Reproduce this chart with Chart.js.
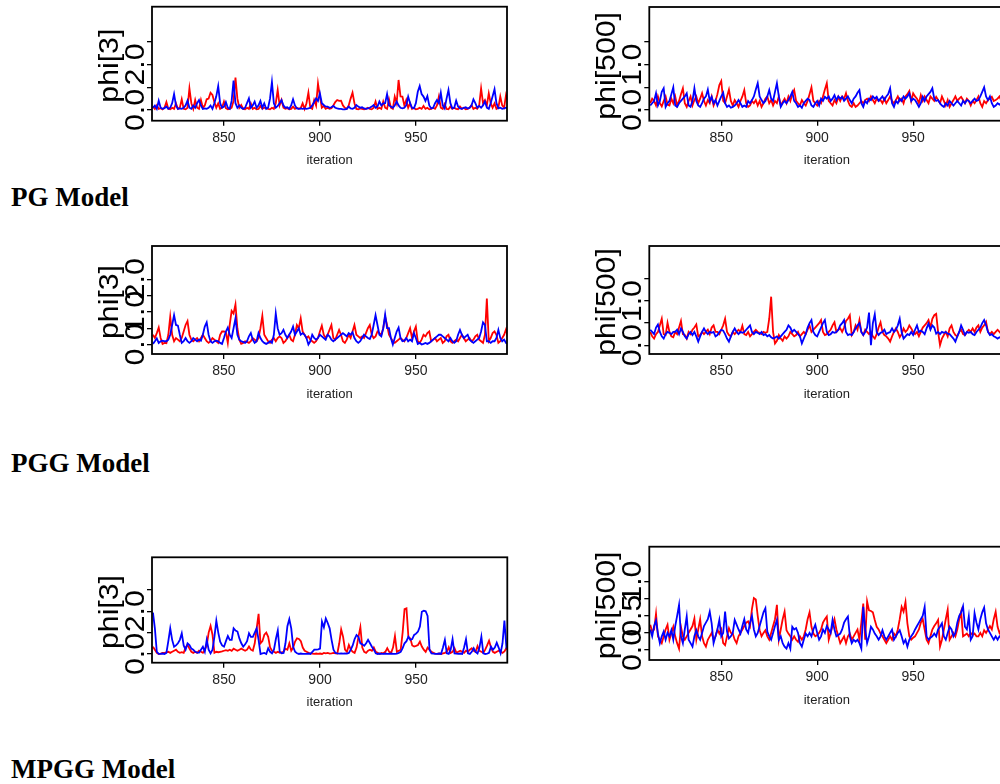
<!DOCTYPE html>
<html lang="en">
<head>
<meta charset="utf-8">
<title>Traceplots phi</title>
<script src="https://cdn.jsdelivr.net/npm/chart.js@4.4.1/dist/chart.umd.min.js"></script>
<style>
  html, body { margin: 0; padding: 0; background: #fff; }
  body { position: relative; width: 1000px; height: 784px; overflow: hidden; }
  canvas { position: absolute; }
  .legenda {
    position: absolute;
    left: 11px;
    font: bold 27px "Liberation Serif", "Times New Roman", serif;
    line-height: 27px;
    color: #000;
    white-space: nowrap;
  }
</style>
</head>
<body>
<canvas id="pgPhi3"></canvas>
<canvas id="pgPhi500"></canvas>
<canvas id="pggPhi3"></canvas>
<canvas id="pggPhi500"></canvas>
<canvas id="mpggPhi3"></canvas>
<canvas id="mpggPhi500"></canvas>
<div class="legenda" style="top:184px">PG Model</div>
<div class="legenda" style="top:450px">PGG Model</div>
<div class="legenda" style="top:756px">MPGG Model</div>

<script>
// Iterações mostradas nos traceplots
const PRIMEIRA_ITERACAO = 813;
const ITER_MIN = 812.5;
const ITER_MAX = 997.5;
const ITER_TICKS = [850, 900, 950];

// PG Model - phi[3] (cadeia 1 vermelha, cadeia 2 azul)
const PG_PHI3_CADEIA1 = [
  0.15, 0.05, 0.2, 0.05, 0.08, 0.03, 0.1, 0.35, 0.05, 0.03,
  0.1, 0.05, 0.29, 0.05, 0.1, 0.47, 0.05, 0.03, 0.1, 0.95,
  0.3, 0.05, 0.44, 0.1, 0.05, 0.44, 0.1, 0.2, 0.47, 0.5,
  0.76, 0.66, 0.35, 0.1, 0.29, 0.05, 0.1, 0.37, 0.08, 0.03,
  0.05, 0.1, 0.4, 1.43, 0.5, 0.1, 0.22, 0.05, 0.03, 0.1,
  0.05, 0.29, 0.05, 0.1, 0.03, 0.05, 0.18, 0.05, 0.1, 0.08,
  0.05, 0.03, 0.1, 0.05, 0.3, 0.88, 0.2, 0.44, 0.1, 0.05,
  0.08, 0.03, 0.05, 0.15, 0.05, 0.1, 0.05, 0.08, 0.29, 0.05,
  0.3, 0.76, 0.1, 0.05, 0.44, 0.2, 1.17, 0.6, 0.1, 0.18,
  0.05, 0.1, 0.05, 0.08, 0.2, 0.35, 0.44, 0.4, 0.41, 0.2,
  0.1, 0.05, 0.2, 0.5, 0.76, 0.3, 0.05, 0.03, 0.07, 0.05,
  0.03, 0.05, 0.1, 0.05, 0.03, 0.1, 0.37, 0.05, 0.1, 0.05,
  0.37, 0.1, 0.05, 0.47, 0.1, 0.05, 0.59, 0.3, 1.32, 0.6,
  0.59, 0.2, 0.44, 0.1, 0.29, 0.05, 0.1, 0.03, 0.05, 0.1,
  0.05, 0.18, 0.05, 0.1, 0.03, 0.05, 0.1, 0.05, 0.2, 0.59,
  0.1, 0.05, 0.26, 0.05, 0.03, 0.15, 0.05, 0.1, 0.05, 0.03,
  0.15, 0.05, 0.1, 0.03, 0.05, 0.1, 0.22, 0.05, 0.1, 0.05,
  0.2, 0.95, 0.3, 0.44, 0.2, 0.73, 0.3, 0.1, 0.29, 0.05,
  0.1, 0.59, 0.2, 0.1, 0.66, 0.4
];
const PG_PHI3_CADEIA2 = [
  0.1, 0.2, 0.05, 0.41, 0.1, 0.05, 0.08, 0.15, 0.05, 0.1,
  0.3, 0.7, 0.2, 0.05, 0.07, 0.05, 0.1, 0.2, 0.41, 0.1,
  0.05, 0.2, 0.1, 0.3, 0.44, 0.2, 0.05, 0.07, 0.05, 0.1,
  0.2, 0.05, 0.3, 0.6, 1.05, 0.3, 0.1, 0.15, 0.35, 0.1,
  0.05, 0.4, 1.29, 0.3, 0.1, 0.2, 0.1, 0.05, 0.1, 0.3,
  0.51, 0.1, 0.2, 0.37, 0.1, 0.2, 0.4, 0.1, 0.29, 0.05,
  0.1, 0.5, 1.23, 0.3, 0.1, 0.18, 0.3, 0.44, 0.2, 0.1,
  0.12, 0.05, 0.2, 0.47, 0.2, 0.07, 0.05, 0.07, 0.05, 0.07,
  0.05, 0.07, 0.1, 0.2, 0.35, 0.51, 0.4, 0.73, 0.3, 0.22,
  0.15, 0.15, 0.1, 0.12, 0.18, 0.1, 0.07, 0.05, 0.05, 0.03,
  0.03, 0.05, 0.15, 0.07, 0.05, 0.1, 0.22, 0.15, 0.1, 0.12,
  0.07, 0.05, 0.07, 0.1, 0.15, 0.22, 0.1, 0.15, 0.37, 0.2,
  0.29, 0.3, 0.7, 0.2, 0.15, 0.1, 0.2, 0.37, 0.2, 0.1,
  0.07, 0.1, 0.2, 0.59, 0.3, 0.1, 0.07, 0.3, 0.8, 1.05,
  0.7, 0.59, 0.4, 0.61, 0.2, 0.07, 0.1, 0.3, 0.44, 0.3,
  0.76, 0.2, 0.07, 0.5, 0.88, 0.3, 0.07, 0.1, 0.41, 0.15,
  0.07, 0.05, 0.1, 0.12, 0.07, 0.1, 0.2, 0.47, 0.3, 0.1,
  0.18, 0.1, 0.2, 0.37, 0.1, 0.05, 0.3, 0.6, 0.91, 0.3,
  0.07, 0.1, 0.05, 0.07, 0.1, 0.07
];

// PG Model - phi[500]
const PG_PHI500_CADEIA1 = [
  0.15, 0.25, 0.2, 0.1, 0.3, 0.15, 0.08, 0.2, 0.3, 0.12,
  0.1, 0.25, 0.15, 0.3, 0.1, 0.2, 0.35, 0.48, 0.15, 0.07,
  0.2, 0.3, 0.1, 0.22, 0.3, 0.15, 0.25, 0.37, 0.2, 0.1,
  0.22, 0.15, 0.3, 0.1, 0.2, 0.35, 0.55, 0.64, 0.2, 0.15,
  0.3, 0.45, 0.2, 0.1, 0.22, 0.15, 0.07, 0.2, 0.3, 0.44,
  0.15, 0.07, 0.1, 0.2, 0.15, 0.22, 0.1, 0.2, 0.07, 0.15,
  0.25, 0.3, 0.15, 0.22, 0.1, 0.2, 0.15, 0.3, 0.1, 0.18,
  0.25, 0.15, 0.3, 0.2, 0.35, 0.44, 0.2, 0.15, 0.1, 0.22,
  0.15, 0.1, 0.2, 0.35, 0.5, 0.2, 0.15, 0.1, 0.2, 0.15,
  0.3, 0.45, 0.59, 0.2, 0.15, 0.1, 0.22, 0.15, 0.29, 0.2,
  0.3, 0.25, 0.37, 0.2, 0.1, 0.07, 0.15, 0.07, 0.1, 0.15,
  0.2, 0.15, 0.22, 0.25, 0.2, 0.3, 0.22, 0.15, 0.25, 0.2,
  0.22, 0.15, 0.25, 0.15, 0.22, 0.3, 0.2, 0.15, 0.22, 0.3,
  0.2, 0.25, 0.15, 0.3, 0.35, 0.42, 0.2, 0.37, 0.3, 0.25,
  0.15, 0.33, 0.2, 0.3, 0.22, 0.15, 0.3, 0.25, 0.2, 0.29,
  0.22, 0.15, 0.3, 0.2, 0.1, 0.22, 0.07, 0.15, 0.22, 0.3,
  0.2, 0.25, 0.29, 0.22, 0.15, 0.25, 0.2, 0.1, 0.2, 0.15,
  0.22, 0.3, 0.15, 0.07, 0.2, 0.15, 0.22, 0.25, 0.29, 0.2,
  0.22, 0.25, 0.3, 0.2, 0.25, 0.3
];
const PG_PHI500_CADEIA2 = [
  0.1, 0.15, 0.2, 0.37, 0.1, 0.2, 0.4, 0.48, 0.07, 0.15,
  0.2, 0.35, 0.5, 0.1, 0.07, 0.15, 0.2, 0.25, 0.3, 0.37,
  0.1, 0.07, 0.2, 0.48, 0.2, 0.1, 0.07, 0.15, 0.25, 0.3,
  0.45, 0.2, 0.29, 0.15, 0.22, 0.1, 0.2, 0.3, 0.38, 0.15,
  0.07, 0.1, 0.05, 0.07, 0.1, 0.15, 0.22, 0.15, 0.07, 0.1,
  0.07, 0.2, 0.15, 0.22, 0.3, 0.45, 0.59, 0.3, 0.22, 0.15,
  0.2, 0.3, 0.44, 0.25, 0.2, 0.4, 0.59, 0.3, 0.07, 0.15,
  0.2, 0.15, 0.22, 0.3, 0.4, 0.2, 0.15, 0.07, 0.1, 0.05,
  0.15, 0.2, 0.25, 0.22, 0.1, 0.07, 0.15, 0.2, 0.1, 0.25,
  0.2, 0.29, 0.25, 0.3, 0.2, 0.25, 0.33, 0.22, 0.3, 0.25,
  0.29, 0.2, 0.25, 0.3, 0.22, 0.15, 0.25, 0.3, 0.38, 0.44,
  0.15, 0.07, 0.2, 0.15, 0.25, 0.22, 0.3, 0.25, 0.29, 0.2,
  0.25, 0.3, 0.22, 0.3, 0.35, 0.48, 0.15, 0.07, 0.2, 0.15,
  0.25, 0.2, 0.3, 0.25, 0.3, 0.37, 0.2, 0.25, 0.22, 0.15,
  0.07, 0.15, 0.29, 0.2, 0.3, 0.35, 0.4, 0.48, 0.25, 0.2,
  0.22, 0.15, 0.1, 0.07, 0.15, 0.1, 0.2, 0.15, 0.1, 0.15,
  0.2, 0.15, 0.1, 0.2, 0.15, 0.22, 0.2, 0.15, 0.2, 0.25,
  0.2, 0.22, 0.3, 0.4, 0.5, 0.3, 0.22, 0.3, 0.15, 0.07,
  0.1, 0.15, 0.12, 0.15, 0.1, 0.12
];

// PGG Model - phi[3]
const PGG_PHI3_CADEIA1 = [
  0.3, 0.2, 0.35, 0.52, 0.2, 0.02, 0.05, 0.04, 0.3, 0.85,
  0.3, 0.1, 0.2, 0.15, 0.1, 0.2, 0.4, 0.6, 0.72, 0.3,
  0.15, 0.1, 0.15, 0.2, 0.1, 0.2, 0.3, 0.2, 0.1, 0.05,
  0.1, 0.2, 0.15, 0.1, 0.05, 0.3, 0.4, 0.4, 0.38, 0.05,
  0.6, 1.03, 0.95, 1.23, 0.5, 0.15, 0.02, 0.05, 0.1, 0.08,
  0.05, 0.1, 0.2, 0.15, 0.1, 0.2, 0.5, 0.88, 0.3, 0.2,
  0.1, 0.05, 0.15, 0.2, 0.1, 0.2, 0.25, 0.2, 0.05, 0.1,
  0.2, 0.3, 0.15, 0.1, 0.3, 0.6, 0.5, 0.8, 0.4, 0.3,
  0.2, 0.25, 0.15, 0.1, 0.05, 0.1, 0.2, 0.4, 0.58, 0.3,
  0.2, 0.3, 0.45, 0.6, 0.2, 0.15, 0.3, 0.45, 0.3, 0.1,
  0.05, 0.15, 0.3, 0.2, 0.4, 0.6, 0.3, 0.25, 0.2, 0.25,
  0.2, 0.35, 0.5, 0.6, 0.3, 0.2, 0.25, 0.4, 0.35, 0.3,
  0.5, 0.85, 0.6, 0.3, 0.2, 0.1, 0.05, 0.1, 0.15, 0.2,
  0.15, 0.1, 0.2, 0.35, 0.5, 0.2, 0.4, 0.55, 0.1, 0.05,
  0.15, 0.3, 0.25, 0.35, 0.4, 0.1, 0.15, 0.2, 0.1, 0.15,
  0.2, 0.05, 0.1, 0.25, 0.3, 0.1, 0.05, 0.1, 0.15, 0.1,
  0.2, 0.3, 0.2, 0.1, 0.15, 0.2, 0.1, 0.15, 0.25, 0.3,
  0.15, 0.1, 0.05, 0.3, 1.41, 0.1, 0.2, 0.35, 0.4, 0.3,
  0.05, 0.1, 0.2, 0.3, 0.47, 0.2
];
const PGG_PHI3_CADEIA2 = [
  0.02, 0.1, 0.19, 0.05, 0.1, 0.12, 0.1, 0.1, 0.15, 0.3,
  0.6, 0.9, 0.6, 0.58, 0.3, 0.05, 0.1, 0.2, 0.1, 0.05,
  0.1, 0.2, 0.15, 0.1, 0.15, 0.12, 0.3, 0.55, 0.68, 0.3,
  0.1, 0.05, 0.1, 0.12, 0.1, 0.05, 0.02, 0.2, 0.4, 0.52,
  0.3, 0.2, 0.5, 0.8, 0.3, 0.15, 0.1, 0.08, 0.05, 0.1,
  0.25, 0.35, 0.15, 0.05, 0.1, 0.35, 0.2, 0.1, 0.05, 0.02,
  0.05, 0.1, 0.05, 0.3, 0.95, 0.5, 0.3, 0.35, 0.45, 0.3,
  0.2, 0.3, 0.4, 0.55, 0.3, 0.4, 0.5, 0.3, 0.35, 0.3,
  0.2, 0.0, 0.1, 0.3, 0.2, 0.15, 0.2, 0.3, 0.25, 0.2,
  0.15, 0.3, 0.25, 0.15, 0.1, 0.15, 0.2, 0.25, 0.3, 0.35,
  0.3, 0.25, 0.35, 0.3, 0.38, 0.2, 0.1, 0.05, 0.1, 0.2,
  0.3, 0.25, 0.2, 0.17, 0.3, 0.6, 0.9, 0.6, 0.3, 0.25,
  0.5, 0.92, 0.5, 0.5, 0.2, 0.0, 0.2, 0.4, 0.52, 0.2,
  0.1, 0.12, 0.2, 0.1, 0.15, 0.1, 0.35, 0.2, 0.02, 0.05,
  0.0, 0.02, 0.05, 0.02, 0.05, 0.1, 0.15, 0.2, 0.25, 0.3,
  0.3, 0.25, 0.2, 0.15, 0.1, 0.2, 0.1, 0.05, 0.1, 0.3,
  0.45, 0.3, 0.2, 0.25, 0.3, 0.15, 0.1, 0.05, 0.1, 0.15,
  0.2, 0.4, 0.68, 0.6, 0.1, 0.1, 0.05, 0.1, 0.1, 0.2,
  0.45, 0.2, 0.1, 0.15, 0.05, 0.03
];

// PGG Model - phi[500]
const PGG_PHI500_CADEIA1 = [
  0.3, 0.2, 0.15, 0.25, 0.3, 0.45, 0.6, 0.25, 0.23, 0.51,
  0.3, 0.2, 0.18, 0.3, 0.25, 0.4, 0.55, 0.25, 0.23, 0.15,
  0.3, 0.25, 0.35, 0.4, 0.47, 0.2, 0.23, 0.3, 0.25, 0.3,
  0.35, 0.25, 0.4, 0.45, 0.3, 0.3, 0.25, 0.35, 0.45, 0.6,
  0.3, 0.23, 0.2, 0.3, 0.25, 0.3, 0.35, 0.3, 0.44, 0.25,
  0.23, 0.3, 0.2, 0.25, 0.3, 0.35, 0.3, 0.28, 0.25, 0.3,
  0.28, 0.3, 0.6, 1.1, 0.3, 0.04, 0.1, 0.23, 0.15, 0.1,
  0.2, 0.15, 0.2, 0.3, 0.25, 0.2, 0.23, 0.3, 0.2, 0.25,
  0.3, 0.25, 0.35, 0.45, 0.3, 0.35, 0.4, 0.45, 0.5, 0.57,
  0.3, 0.23, 0.25, 0.3, 0.35, 0.45, 0.52, 0.3, 0.35, 0.38,
  0.3, 0.4, 0.55, 0.6, 0.68, 0.23, 0.3, 0.45, 0.35, 0.57,
  0.3, 0.23, 0.35, 0.3, 0.25, 0.3, 0.2, 0.15, 0.25, 0.4,
  0.52, 0.3, 0.23, 0.2, 0.15, 0.08, 0.2, 0.3, 0.38, 0.3,
  0.18, 0.25, 0.38, 0.3, 0.35, 0.45, 0.38, 0.3, 0.25, 0.3,
  0.2, 0.3, 0.4, 0.45, 0.5, 0.57, 0.4, 0.6, 0.68, 0.71,
  0.3, 0.0, 0.15, 0.23, 0.3, 0.2, 0.38, 0.45, 0.3, 0.23,
  0.2, 0.3, 0.35, 0.25, 0.23, 0.3, 0.35, 0.3, 0.38, 0.3,
  0.4, 0.45, 0.3, 0.4, 0.45, 0.53, 0.3, 0.25, 0.3, 0.25,
  0.3, 0.35, 0.3, 0.25, 0.3, 0.28
];
const PGG_PHI500_CADEIA2 = [
  0.35, 0.3, 0.25, 0.4, 0.47, 0.3, 0.2, 0.15, 0.25, 0.3,
  0.28, 0.25, 0.3, 0.3, 0.35, 0.25, 0.38, 0.3, 0.2, 0.15,
  0.25, 0.3, 0.23, 0.3, 0.2, 0.08, 0.2, 0.3, 0.38, 0.3,
  0.25, 0.3, 0.28, 0.3, 0.2, 0.23, 0.3, 0.35, 0.33, 0.25,
  0.15, 0.08, 0.2, 0.3, 0.38, 0.3, 0.25, 0.3, 0.28, 0.3,
  0.35, 0.4, 0.45, 0.3, 0.25, 0.3, 0.28, 0.25, 0.3, 0.23,
  0.25, 0.2, 0.23, 0.18, 0.15, 0.17, 0.2, 0.15, 0.2, 0.25,
  0.3, 0.35, 0.45, 0.4, 0.3, 0.35, 0.3, 0.25, 0.2, 0.04,
  0.15, 0.25, 0.4, 0.5, 0.57, 0.3, 0.23, 0.2, 0.3, 0.4,
  0.5, 0.57, 0.3, 0.23, 0.25, 0.3, 0.28, 0.3, 0.35, 0.45,
  0.5, 0.57, 0.3, 0.23, 0.25, 0.23, 0.3, 0.38, 0.45, 0.5,
  0.3, 0.23, 0.3, 0.4, 0.74, 0.0, 0.5, 0.7, 0.3, 0.23,
  0.28, 0.3, 0.35, 0.25, 0.28, 0.3, 0.38, 0.3, 0.35, 0.45,
  0.6, 0.3, 0.15, 0.2, 0.25, 0.23, 0.3, 0.23, 0.35, 0.45,
  0.3, 0.33, 0.3, 0.25, 0.38, 0.49, 0.35, 0.45, 0.4, 0.26,
  0.3, 0.25, 0.3, 0.28, 0.3, 0.26, 0.25, 0.2, 0.15, 0.08,
  0.2, 0.3, 0.45, 0.35, 0.23, 0.3, 0.28, 0.3, 0.25, 0.23,
  0.3, 0.35, 0.4, 0.5, 0.57, 0.45, 0.3, 0.23, 0.25, 0.2,
  0.18, 0.15, 0.18, 0.15, 0.2, 0.18
];

// MPGG Model - phi[3]
const MPGG_PHI3_CADEIA1 = [
  0.34, 0.2, 0.05, 0.0, 0.02, 0.05, 0.05, 0.08, 0.1, 0.05,
  0.1, 0.15, 0.2, 0.1, 0.05, 0.08, 0.05, 0.3, 0.42, 0.25,
  0.1, 0.05, 0.1, 0.05, 0.15, 0.1, 0.05, 0.2, 0.4, 1.0,
  1.31, 0.9, 0.05, 0.1, 0.08, 0.1, 0.12, 0.15, 0.18, 0.15,
  0.2, 0.15, 0.25, 0.2, 0.15, 0.2, 0.25, 0.2, 0.15, 0.2,
  0.35, 0.2, 0.15, 0.5, 1.2, 1.88, 0.5, 0.6, 0.9, 1.0,
  0.8, 0.3, 0.15, 0.1, 0.05, 0.1, 0.05, 0.08, 0.1, 0.25,
  0.2, 0.5, 0.15, 0.3, 0.58, 0.73, 0.7, 0.6, 0.3, 0.15,
  0.1, 0.05, 0.03, 0.02, 0.0, 0.02, 0.0, 0.02, 0.0, 0.05,
  0.03, 0.05, 0.02, 0.03, 0.05, 0.03, 0.02, 0.5, 1.15, 0.8,
  0.2, 0.1, 0.42, 0.2, 0.1, 0.05, 0.3, 0.8, 1.25, 0.3,
  0.1, 0.05, 0.15, 0.2, 0.15, 0.3, 0.1, 0.05, 0.0, 0.05,
  0.03, 0.1, 0.27, 0.1, 0.05, 0.3, 0.84, 0.1, 0.15, 0.2,
  1.0, 2.1, 2.14, 0.8, 0.72, 0.4, 0.35, 0.38, 0.42, 0.58,
  0.35, 0.2, 0.1, 0.3, 0.2, 0.1, 0.05, 0.02, 0.0, 0.02,
  0.0, 0.03, 0.05, 0.1, 0.31, 0.05, 0.1, 0.27, 0.05, 0.1,
  0.15, 0.1, 0.05, 0.15, 0.1, 0.2, 0.27, 0.15, 0.1, 0.37,
  0.15, 0.1, 0.05, 0.2, 0.4, 0.62, 0.3, 0.1, 0.05, 0.1,
  0.15, 0.1, 0.05, 0.12, 0.27, 0.2
];
const MPGG_PHI3_CADEIA2 = [
  1.94, 1.2, 0.1, 0.0, 0.0, 0.02, 0.0, 0.05, 0.6, 1.2,
  0.66, 0.34, 0.4, 0.5, 0.66, 0.97, 0.4, 0.2, 0.5, 0.42,
  0.25, 0.2, 0.1, 0.06, 0.06, 0.2, 0.34, 0.1, 0.66, 0.2,
  0.03, 0.2, 0.8, 1.56, 1.0, 0.58, 0.4, 0.34, 0.6, 0.84,
  0.66, 0.66, 1.2, 1.1, 1.05, 0.73, 0.5, 0.34, 0.45, 0.6,
  0.97, 0.8, 0.8, 1.0, 1.2, 0.66, 0.0, 0.03, 0.05, 0.0,
  0.27, 0.1, 0.03, 0.2, 0.7, 1.1, 0.1, 0.03, 0.05, 0.5,
  1.3, 1.63, 1.2, 0.34, 0.1, 0.03, 0.0, 0.02, 0.0, 0.0,
  0.0, 0.02, 0.0, 0.1, 0.2, 0.2, 0.22, 0.25, 1.52, 1.25,
  1.66, 1.45, 1.2, 0.66, 0.2, 0.05, 0.03, 0.02, 0.03, 0.02,
  0.03, 0.02, 0.05, 0.2, 0.4, 0.7, 0.89, 0.8, 0.5, 0.45,
  0.38, 0.5, 0.66, 0.5, 0.34, 0.2, 0.03, 0.0, 0.02, 0.0,
  0.0, 0.02, 0.0, 0.0, 0.02, 0.0, 0.0, 0.02, 0.05, 0.1,
  0.27, 0.5, 0.6, 0.81, 0.66, 0.7, 0.89, 0.95, 1.05, 1.28,
  1.98, 2.03, 2.0, 1.78, 0.2, 0.03, 0.02, 0.0, 0.0, 0.02,
  0.0, 0.3, 0.66, 0.03, 0.0, 0.2, 0.69, 0.03, 0.02, 0.0,
  0.02, 0.0, 0.3, 0.69, 0.03, 0.0, 0.1, 0.27, 0.1, 0.02,
  0.3, 0.81, 0.03, 0.0, 0.02, 0.05, 0.34, 0.2, 0.3, 0.53,
  0.3, 0.03, 0.5, 1.56, 0.34, 0.5
];

// MPGG Model - phi[500]
const MPGG_PHI500_CADEIA1 = [
  0.37, 0.27, 0.3, 0.53, 0.2, 0.15, 0.1, 0.2, 0.3, 0.37,
  0.15, 0.25, 0.34, 0.2, 0.1, 0.02, 0.34, 0.2, 0.15, 0.2,
  0.25, 0.3, 0.35, 0.46, 0.15, 0.3, 0.45, 0.2, 0.1, 0.05,
  0.15, 0.2, 0.25, 0.15, 0.2, 0.3, 0.24, 0.3, 0.1, 0.07,
  0.2, 0.32, 0.25, 0.24, 0.15, 0.1, 0.2, 0.25, 0.3, 0.35,
  0.4, 0.42, 0.35, 0.6, 0.76, 0.74, 0.5, 0.29, 0.2, 0.25,
  0.29, 0.2, 0.15, 0.25, 0.35, 0.45, 0.66, 0.15, 0.3, 0.45,
  0.56, 0.29, 0.24, 0.2, 0.15, 0.2, 0.15, 0.12, 0.2, 0.15,
  0.2, 0.3, 0.45, 0.55, 0.34, 0.24, 0.2, 0.22, 0.25, 0.3,
  0.4, 0.45, 0.49, 0.15, 0.25, 0.35, 0.45, 0.3, 0.2, 0.1,
  0.15, 0.2, 0.1, 0.2, 0.24, 0.15, 0.2, 0.25, 0.3, 0.15,
  0.4, 0.68, 0.15, 0.71, 0.58, 0.57, 0.55, 0.44, 0.34, 0.3,
  0.24, 0.2, 0.15, 0.1, 0.15, 0.2, 0.15, 0.24, 0.2, 0.3,
  0.45, 0.63, 0.56, 0.7, 0.39, 0.2, 0.15, 0.18, 0.2, 0.25,
  0.3, 0.4, 0.45, 0.3, 0.15, 0.1, 0.2, 0.3, 0.35, 0.39,
  0.44, 0.05, 0.15, 0.3, 0.45, 0.59, 0.15, 0.2, 0.25, 0.2,
  0.3, 0.45, 0.56, 0.2, 0.22, 0.24, 0.2, 0.25, 0.22, 0.24,
  0.2, 0.2, 0.25, 0.2, 0.29, 0.25, 0.3, 0.35, 0.3, 0.45,
  0.56, 0.34, 0.25, 0.3, 0.35, 0.3
];
const MPGG_PHI500_CADEIA2 = [
  0.3, 0.2, 0.35, 0.43, 0.24, 0.1, 0.2, 0.27, 0.15, 0.25,
  0.2, 0.29, 0.15, 0.35, 0.5, 0.66, 0.2, 0.1, 0.3, 0.49,
  0.15, 0.1, 0.05, 0.2, 0.29, 0.2, 0.15, 0.25, 0.35, 0.4,
  0.45, 0.56, 0.39, 0.1, 0.2, 0.3, 0.44, 0.2, 0.25, 0.56,
  0.27, 0.17, 0.2, 0.25, 0.44, 0.37, 0.3, 0.24, 0.35, 0.45,
  0.3, 0.25, 0.4, 0.5, 0.3, 0.2, 0.25, 0.35, 0.45, 0.55,
  0.61, 0.27, 0.2, 0.15, 0.25, 0.35, 0.44, 0.15, 0.2, 0.1,
  0.05, 0.02, 0.1, 0.02, 0.34, 0.3, 0.32, 0.25, 0.1, 0.05,
  0.15, 0.24, 0.2, 0.25, 0.2, 0.3, 0.37, 0.25, 0.15, 0.2,
  0.3, 0.25, 0.35, 0.3, 0.25, 0.44, 0.3, 0.2, 0.22, 0.24,
  0.3, 0.4, 0.45, 0.49, 0.2, 0.1, 0.15, 0.12, 0.15, 0.1,
  0.02, 0.63, 0.3, 0.1, 0.2, 0.34, 0.3, 0.24, 0.2, 0.15,
  0.2, 0.29, 0.2, 0.15, 0.2, 0.25, 0.3, 0.15, 0.2, 0.25,
  0.29, 0.2, 0.1, 0.15, 0.05, 0.15, 0.2, 0.24, 0.3, 0.35,
  0.4, 0.45, 0.5, 0.63, 0.2, 0.15, 0.18, 0.2, 0.24, 0.2,
  0.3, 0.34, 0.39, 0.2, 0.15, 0.25, 0.34, 0.3, 0.2, 0.25,
  0.4, 0.5, 0.55, 0.64, 0.34, 0.3, 0.49, 0.15, 0.2, 0.54,
  0.4, 0.3, 0.45, 0.55, 0.62, 0.39, 0.3, 0.25, 0.2, 0.15,
  0.2, 0.15, 0.2, 0.18, 0.2, 0.15
];

// Marcas e rótulos do eixo y de cada painel
const PG_PHI3_YTICKS = [0, 1, 2, 3];
const PG_PHI3_YLABELS = ['0.0', '', '2.0', ''];
const PG_PHI500_YTICKS = [0, 0.5, 1, 1.5];
const PG_PHI500_YLABELS = ['0.0', '', '1.0', ''];
const PGG_PHI3_YTICKS = [0, 0.5, 1, 1.5, 2];
const PGG_PHI3_YLABELS = ['0.0', '', '1.0', '', '2.0'];
const PGG_PHI500_YTICKS = [0, 0.5, 1, 1.5];
const PGG_PHI500_YLABELS = ['0.0', '', '1.0', ''];
const MPGG_PHI3_YTICKS = [0, 1, 2, 3];
const MPGG_PHI3_YLABELS = ['0.0', '', '2.0', ''];
const MPGG_PHI500_YTICKS = [0, 0.25, 0.5, 0.75, 1];
const MPGG_PHI500_YLABELS = ['0.0', '', '0.5', '', '1.0'];

const FONTE = '"Liberation Sans", Arial, Helvetica, sans-serif';
const ALTURA_EIXO_X = 48;

// Configuração de cada painel (posição da caixa do gráfico na página)
const paineis = [
  { id: 'pgPhi3', titulo: 'phi[3]', cadeias: [PG_PHI3_CADEIA1, PG_PHI3_CADEIA2],
    yTicks: PG_PHI3_YTICKS, yLabels: PG_PHI3_YLABELS, yMin: -0.47, yMax: 4.54,
    x0: 0, largura: 520, caixa: { left: 152, top: 6.7, right: 507, bottom: 120.7 } },
  { id: 'pgPhi500', titulo: 'phi[500]', cadeias: [PG_PHI500_CADEIA1, PG_PHI500_CADEIA2],
    yTicks: PG_PHI500_YTICKS, yLabels: PG_PHI500_YLABELS, yMin: -0.235, yMax: 2.27,
    x0: 540, largura: 470, caixa: { left: 649.3, top: 7, right: 1004.3, bottom: 120.7 } },
  { id: 'pggPhi3', titulo: 'phi[3]', cadeias: [PGG_PHI3_CADEIA1, PGG_PHI3_CADEIA2],
    yTicks: PGG_PHI3_YTICKS, yLabels: PGG_PHI3_YLABELS, yMin: -0.29, yMax: 3.02,
    x0: 0, largura: 520, caixa: { left: 152, top: 246, right: 507, bottom: 354 } },
  { id: 'pggPhi500', titulo: 'phi[500]', cadeias: [PGG_PHI500_CADEIA1, PGG_PHI500_CADEIA2],
    yTicks: PGG_PHI500_YTICKS, yLabels: PGG_PHI500_YLABELS, yMin: -0.2, yMax: 2.25,
    x0: 540, largura: 470, caixa: { left: 649.3, top: 246, right: 1004.3, bottom: 354 } },
  { id: 'mpggPhi3', titulo: 'phi[3]', cadeias: [MPGG_PHI3_CADEIA1, MPGG_PHI3_CADEIA2],
    yTicks: MPGG_PHI3_YTICKS, yLabels: MPGG_PHI3_YLABELS, yMin: -0.41, yMax: 4.53,
    x0: 0, largura: 520, caixa: { left: 152, top: 557.3, right: 507.3, bottom: 662.7 } },
  { id: 'mpggPhi500', titulo: 'phi[500]', cadeias: [MPGG_PHI500_CADEIA1, MPGG_PHI500_CADEIA2],
    yTicks: MPGG_PHI500_YTICKS, yLabels: MPGG_PHI500_YLABELS, yMin: -0.146, yMax: 1.51,
    x0: 540, largura: 470, caixa: { left: 649.3, top: 546.7, right: 1004.3, bottom: 660 } }
];

// Caixa completa e rótulos do eixo y girados (texto levemente esticado como no R)
const eixoEstiloR = {
  id: 'eixoEstiloR',
  afterDraw(chart, args, opts) {
    const { ctx, chartArea: a } = chart;
    const y = chart.scales.y;
    ctx.save();
    ctx.strokeStyle = '#000';
    ctx.lineWidth = 1.8;
    ctx.strokeRect(a.left, a.top, a.right - a.left, a.bottom - a.top);

    ctx.fillStyle = '#000';
    ctx.font = '27px ' + FONTE;
    ctx.textAlign = 'center';
    ctx.textBaseline = 'alphabetic';
    const textoVertical = (texto, x, yy) => {
      ctx.save();
      ctx.translate(x, yy);
      ctx.rotate(-Math.PI / 2);
      ctx.scale(1.12, 1);
      ctx.fillText(texto, 0, 0);
      ctx.restore();
    };
    opts.rotulos.forEach((t, i) => {
      if (t) textoVertical(t, a.left - 8.5, y.getPixelForValue(opts.marcas[i]));
    });
    textoVertical(opts.titulo, a.left - 34.5, (a.top + a.bottom) / 2 + 2);
    ctx.restore();
  }
};

// Converte a série em pontos (iteração, valor)
function pontos(valores) {
  return valores.map((v, i) => ({ x: PRIMEIRA_ITERACAO + i, y: v }));
}

// Desenha um traceplot com as duas cadeias
function desenhaPainel(p) {
  const canvas = document.getElementById(p.id);
  const topo = Math.floor(p.caixa.top) - 6;
  const altura = Math.ceil(p.caixa.bottom) + 56 - topo;
  canvas.width = p.largura;
  canvas.height = altura;
  canvas.style.left = p.x0 + 'px';
  canvas.style.top = topo + 'px';
  canvas.style.width = p.largura + 'px';
  canvas.style.height = altura + 'px';

  const larguraEixoY = p.caixa.left - p.x0;
  const gradeMarcas = {
    display: true,
    drawOnChartArea: false,
    drawTicks: true,
    tickLength: 5,
    color: '#000',
    lineWidth: 1.3
  };

  new Chart(canvas, {
    type: 'line',
    data: {
      datasets: [
        { label: 'cadeia 2', data: pontos(p.cadeias[1]), borderColor: '#0000ff' },
        { label: 'cadeia 1', data: pontos(p.cadeias[0]), borderColor: '#ff0000' }
      ]
    },
    options: {
      responsive: false,
      animation: false,
      devicePixelRatio: 1,
      layout: {
        autoPadding: false,
        padding: {
          top: p.caixa.top - topo,
          left: 0,
          right: p.largura - (p.caixa.right - p.x0),
          bottom: altura - (p.caixa.bottom - topo) - ALTURA_EIXO_X
        }
      },
      datasets: {
        line: { borderWidth: 1.8, pointRadius: 0, tension: 0, fill: false, clip: 0 }
      },
      plugins: {
        legend: { display: false },
        tooltip: { enabled: false },
        eixoEstiloR: { titulo: p.titulo, marcas: p.yTicks, rotulos: p.yLabels }
      },
      scales: {
        x: {
          type: 'linear',
          min: ITER_MIN,
          max: ITER_MAX,
          afterBuildTicks: s => { s.ticks = ITER_TICKS.map(v => ({ value: v })); },
          afterFit: s => { s.height = ALTURA_EIXO_X; },
          grid: gradeMarcas,
          border: { display: false },
          ticks: {
            color: '#222',
            font: { family: FONTE, size: 14 },
            padding: 4,
            maxRotation: 0,
            autoSkip: false,
            callback: v => String(v)
          },
          title: {
            display: true,
            text: 'iteration',
            color: '#222',
            font: { family: FONTE, size: 13 },
            padding: 0
          }
        },
        y: {
          type: 'linear',
          min: p.yMin,
          max: p.yMax,
          afterBuildTicks: s => { s.ticks = p.yTicks.map(v => ({ value: v })); },
          afterFit: s => { s.width = larguraEixoY; },
          grid: gradeMarcas,
          border: { display: false },
          ticks: { display: false }
        }
      }
    },
    plugins: [eixoEstiloR]
  });
}

paineis.forEach(desenhaPainel);
</script>
</body>
</html>
